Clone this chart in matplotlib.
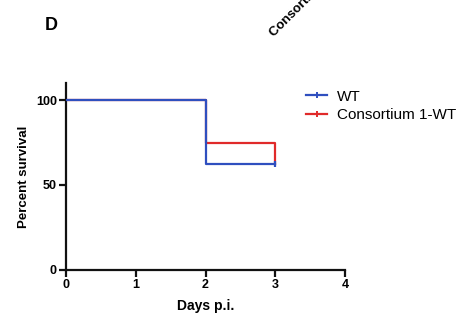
import matplotlib
matplotlib.use("Agg")
import matplotlib.pyplot as plt

plt.rcParams['font.family'] = ['Liberation Sans', 'DejaVu Sans']

days_wt = [0, 2, 3]
surv_wt = [100, 62.5, 62.5]
days_c1 = [0, 2, 3]
surv_c1 = [100, 75, 62.5]
series_labels = ["WT", "Consortium 1-WT"]
xticks = [0, 1, 2, 3, 4]
yticks = [0, 50, 100]

blue = "#2f4fbf"
red = "#e02a2a"

fig = plt.figure(figsize=(4.62, 3.24), dpi=100)
ax = fig.add_axes([0.1429, 0.1667, 0.6039, 0.5771])

ax.step(days_c1, surv_c1, where='post', color=red, lw=1.6, zorder=2)
ax.step(days_wt, surv_wt, where='post', color=blue, lw=1.6, zorder=3)
ax.plot([3], [62.5], marker='|', color=blue, markersize=4, mew=1.6, zorder=3)

# legend proxies
lw_, = ax.plot([], [], color=blue, lw=1.6, marker='|', markersize=4, mew=1.4)
lr_, = ax.plot([], [], color=red, lw=1.6, marker='|', markersize=4, mew=1.4)
leg = ax.legend([lw_, lr_], series_labels, loc='upper left',
                bbox_to_anchor=(0.86, 0.965), frameon=False, fontsize=11,
                handlelength=1.4, handletextpad=0.65, labelspacing=0.3,
                borderaxespad=0, borderpad=0)

ax.set_xlim(0, 4)
ax.set_ylim(0, 110)
ax.set_xticks(xticks)
ax.set_yticks(yticks)
for s in ['top', 'right']:
    ax.spines[s].set_visible(False)
for s in ['left', 'bottom']:
    ax.spines[s].set_linewidth(1.6)
    ax.spines[s].set_color('#111111')
ax.tick_params(axis='both', width=1.6, length=5, color='#111111',
               labelsize=9, pad=1.5)
for lab in ax.get_xticklabels() + ax.get_yticklabels():
    lab.set_fontweight('bold')

ax.set_xlabel("Days p.i.", fontsize=10, fontweight='bold', labelpad=6)
ax.set_ylabel("Percent survival", fontsize=9.5, fontweight='bold', labelpad=4)

fig.text(0.097, 0.922, "D", fontsize=13, fontweight='bold', ha='left', va='center')
fig.text(0.598, 0.88, "Consortium 1-WT", fontsize=9.5, fontweight='bold',
         rotation=45, ha='left', va='bottom', rotation_mode='anchor')

fig.savefig("out.png", dpi=100)
